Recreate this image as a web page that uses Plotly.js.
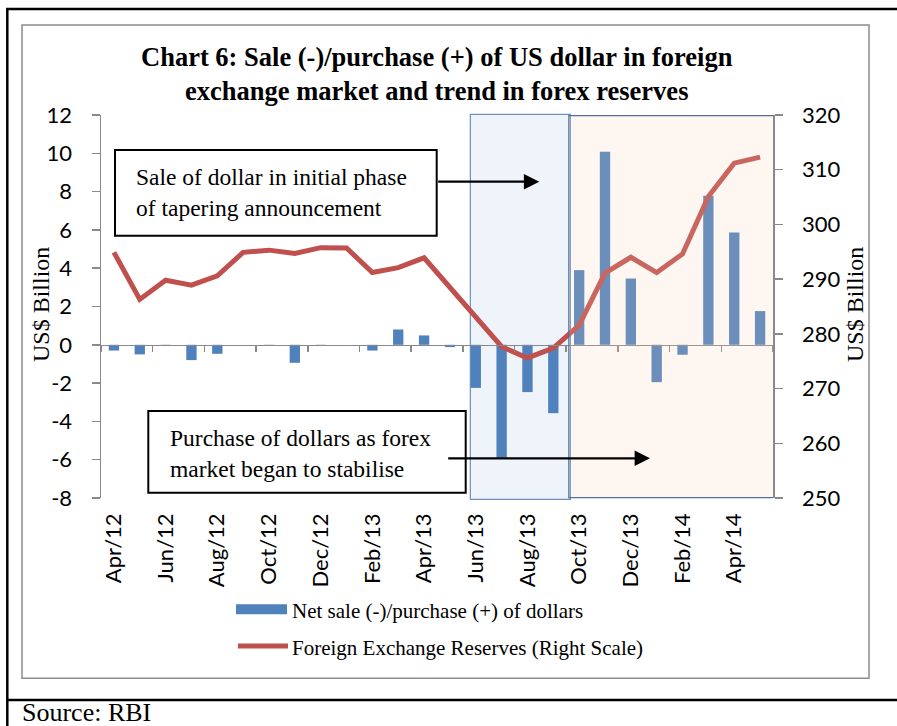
<!DOCTYPE html>
<html>
<head>
<meta charset="utf-8">
<script src="https://cdn.plot.ly/plotly-3.0.1.min.js"></script>
<style>html,body{margin:0;padding:0;background:#fff;}#chart{width:897px;height:726px;}</style>
</head>
<body>
<div id="chart"></div>
<script>
// ---- data ----
var months = ['Apr/12','May/12','Jun/12','Jul/12','Aug/12','Sep/12','Oct/12','Nov/12','Dec/12','Jan/13','Feb/13','Mar/13',
              'Apr/13','May/13','Jun/13','Jul/13','Aug/13','Sep/13','Oct/13','Nov/13','Dec/13','Jan/14','Feb/14','Mar/14','Apr/14','May/14'];
var netPurchase = [-0.30,-0.50,-0.05,-0.80,-0.47,0,-0.05,-0.94,-0.02,0,-0.30,0.80,
                   0.49,-0.12,-2.25,-5.90,-2.47,-3.57,3.90,10.08,3.46,-1.95,-0.52,7.78,5.87,1.76];
var reserves = [294.9,286.3,289.8,288.9,290.6,294.9,295.3,294.7,295.75,295.7,291.2,292.1,
                293.9,288.5,283.1,277.65,275.6,277.4,281.6,291.1,294.0,291.2,294.6,305.1,311.2,312.3];
var leftTicks = [-8,-6,-4,-2,0,2,4,6,8,10,12];
var leftTickText = ['-8','-6','-4','-2','0','2','4','6','8','10','12'];
var rightTicks = [250,260,270,280,290,300,310,320];
var titleText = 'Chart 6: Sale (-)/purchase (+) of US dollar in foreign<br>exchange market and trend in forex reserves';
var barName = 'Net sale (-)/purchase (+) of dollars';
var lineName = 'Foreign Exchange Reserves (Right Scale)';
var note1 = 'Sale of dollar in initial phase<br>of tapering announcement';
var note2 = 'Purchase of dollars as forex<br>market began to stabilise';

// ---- layout helpers (pixel -> paper) ----
var L = 101, R = 773, T = 115, B = 498;
function px(x){ return (x - L) / (R - L); }
function py(y){ return (B - y) / (B - T); }

var serif = 'Liberation Serif, Times New Roman, serif';
var sans = 'Lato, Calibri, sans-serif';
var axisGray = '#898989';

var traces = [
  {type:'bar', x: months, y: netPurchase, name: barName, marker:{color:'#4f81bd'},
   xaxis:'x', yaxis:'y', showlegend:false, hoverinfo:'x+y'},
  {type:'scatter', mode:'lines', x: months, y: reserves, name: lineName,
   line:{color:'#c0504d', width:5}, xaxis:'x2', yaxis:'y2', showlegend:false}
];

var layout = {
  width: 897, height: 726,
  margin: {l: L, r: 897 - R, t: T, b: 726 - B, autoexpand:false},
  paper_bgcolor:'#ffffff', plot_bgcolor:'rgba(0,0,0,0)',
  bargap: 0.6,
  showlegend:false,
  xaxis: {type:'category', categoryarray: months, range:[-0.5, 25.5], anchor:'y',
          showline:false, showgrid:false, zeroline:false, ticks:'', tickmode:'linear', tick0:0, dtick:2,
          tickangle:-90, tickfont:{family:sans, size:22, color:'#000'}, ticklabelstandoff:10, fixedrange:true},
  xaxis2: {type:'category', categoryarray: months, range:[-0.5, 25.5], overlaying:'x', anchor:'free', position:0.4,
           showline:true, linecolor:axisGray, linewidth:1.5, showgrid:false, zeroline:false,
           ticks:'outside', ticklen:6, tickwidth:1.5, tickcolor:axisGray, tickson:'boundaries',
           tickmode:'linear', tick0:0, dtick:2, showticklabels:false},
  yaxis: {range:[-8,12], tickmode:'array', tickvals:leftTicks, ticktext:leftTickText, showline:true, linecolor:axisGray, linewidth:1.5,
          ticks:'outside', ticklen:8, tickwidth:1.5, tickcolor:axisGray, showgrid:false, zeroline:false,
          tickfont:{family:sans, size:22, color:'#000'}, ticklabelstandoff:15},
  yaxis2: {range:[250,320], tickmode:'array', tickvals:rightTicks, overlaying:'y', side:'right', anchor:'x',
           showline:true, linecolor:axisGray, linewidth:1.5,
           ticks:'outside', ticklen:8, tickwidth:1.5, tickcolor:axisGray, showgrid:false, zeroline:false,
           tickfont:{family:sans, size:22, color:'#000'}, ticklabelstandoff:15},
  shapes: [
    // outer page frame
    {type:'rect', xref:'paper', yref:'paper', x0:px(7.3), x1:px(905), y0:py(735), y1:py(9),
     line:{color:'#000', width:2.5}, layer:'below'},
    {type:'line', xref:'paper', yref:'paper', x0:px(7.3), x1:px(905), y0:py(700), y1:py(700),
     line:{color:'#000', width:2.5}},
    // chart area frame
    {type:'rect', xref:'paper', yref:'paper', x0:px(22), x1:px(869), y0:py(678.3), y1:py(25),
     line:{color:'#8c8c8c', width:1.5}, layer:'below'},
    // highlight regions
    {type:'rect', xref:'x', yref:'paper', x0:13.79, x1:17.66, y0:py(499.3), y1:py(114.3),
     fillcolor:'#eff3fa', line:{color:'#6f8fbf', width:1.2}, layer:'below'},
    {type:'rect', xref:'x', yref:'paper', x0:17.6, x1:25.55, y0:py(497.7), y1:py(115.7),
     fillcolor:'rgba(244,205,177,0.18)', line:{color:'#4f6fa3', width:1.2}, layer:'above'},
    // note boxes
    {type:'rect', xref:'paper', yref:'paper', x0:px(115), x1:px(436.7), y0:py(235.7), y1:py(150),
     fillcolor:'#ffffff', line:{color:'#000', width:2}},
    {type:'rect', xref:'paper', yref:'paper', x0:px(148.3), x1:px(465.7), y0:py(492.7), y1:py(411),
     fillcolor:'#ffffff', line:{color:'#000', width:2}},
    // legend symbols
    {type:'rect', xref:'paper', yref:'paper', x0:px(236), x1:px(287), y0:py(614.3), y1:py(604.3),
     fillcolor:'#4f81bd', line:{width:0}},
    {type:'line', xref:'paper', yref:'paper', x0:px(238), x1:px(288), y0:py(646), y1:py(646),
     line:{color:'#c0504d', width:5}}
  ],
  annotations: [
    {xref:'paper', yref:'paper', x:0.5, y:py(74), xanchor:'center', yanchor:'middle', showarrow:false,
     text:'<b>'+titleText+'</b>', font:{family:serif, size:26.5, color:'#000'}},
    {xref:'paper', yref:'paper', x:px(41), y:py(305), xanchor:'center', yanchor:'middle', textangle:-90, showarrow:false,
     text:'US$ Billion', font:{family:serif, size:24, color:'#000'}},
    {xref:'paper', yref:'paper', x:px(855), y:py(305), xanchor:'center', yanchor:'middle', textangle:-90, showarrow:false,
     text:'US$ Billion', font:{family:serif, size:24, color:'#000'}},
    {xref:'paper', yref:'paper', x:px(134), y:py(192), xanchor:'left', yanchor:'middle', align:'left', showarrow:false,
     text:note1, font:{family:serif, size:23.5, color:'#000'}},
    {xref:'paper', yref:'paper', x:px(168), y:py(453), xanchor:'left', yanchor:'middle', align:'left', showarrow:false,
     text:note2, font:{family:serif, size:23.5, color:'#000'}},
    {xref:'paper', yref:'paper', x:px(539.3), y:py(181.7), axref:'paper', ayref:'paper', ax:px(436.7), ay:py(181.7),
     text:'', showarrow:true, arrowhead:2, arrowsize:1.4, arrowwidth:2.2, arrowcolor:'#000'},
    {xref:'paper', yref:'paper', x:px(650), y:py(458.3), axref:'paper', ayref:'paper', ax:px(446.7), ay:py(458.3),
     text:'', showarrow:true, arrowhead:2, arrowsize:1.4, arrowwidth:2.2, arrowcolor:'#000'},
    {xref:'paper', yref:'paper', x:px(290), y:py(611), xanchor:'left', yanchor:'middle', showarrow:false,
     text:barName, font:{family:serif, size:21, color:'#000'}},
    {xref:'paper', yref:'paper', x:px(290), y:py(648), xanchor:'left', yanchor:'middle', showarrow:false,
     text:lineName, font:{family:serif, size:21, color:'#000'}},
    {xref:'paper', yref:'paper', x:px(20), y:py(712), xanchor:'left', yanchor:'middle', showarrow:false,
     text:'Source: RBI', font:{family:serif, size:26, color:'#000'}}
  ]
};

Plotly.newPlot('chart', traces, layout, {displayModeBar:false, staticPlot:true});
</script>
</body>
</html>
